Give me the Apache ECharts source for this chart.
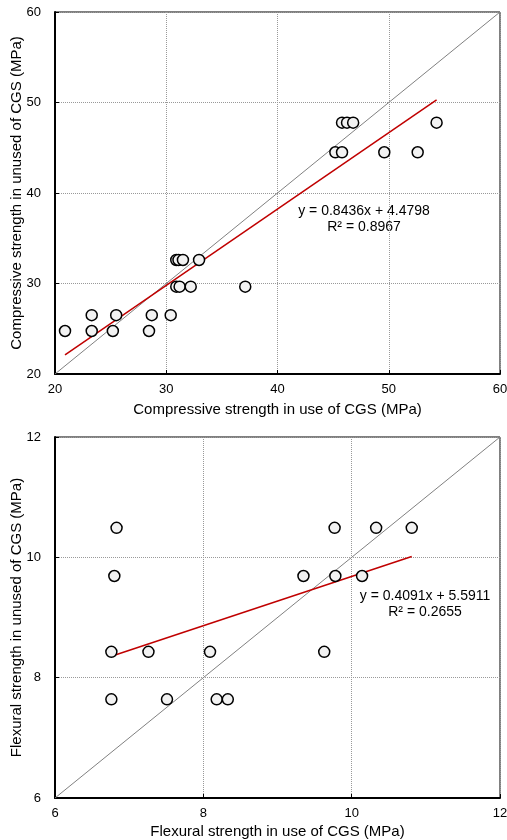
<!DOCTYPE html>
<html>
<head>
<meta charset="utf-8">
<script src="https://cdn.jsdelivr.net/npm/echarts@6/dist/echarts.min.js"></script>
<style>
  html, body { margin: 0; padding: 0; background: #fff; }
  #main { width: 507px; height: 840px; }
</style>
</head>
<body>
<div id="main"></div>
<script>
// compressive strength (MPa): in use of CGS vs unused
var compX = [20.9, 23.3, 25.2, 28.45, 23.3, 25.5, 28.7, 30.4, 30.9, 31.2, 32.2, 37.1, 30.9, 31.1, 31.5, 32.95, 45.2, 45.8, 49.6, 52.6, 45.8, 46.25, 46.8, 54.3];
var compY = [24.75, 24.75, 24.75, 24.75, 26.5, 26.5, 26.5, 26.5, 29.65, 29.65, 29.65, 29.65, 32.6, 32.6, 32.6, 32.6, 44.5, 44.5, 44.5, 44.5, 47.77, 47.77, 47.77, 47.77];
var compFit = [0.8436, 4.4798, 0.8967]; // slope, intercept, R²
var compRange = [20, 60, 10];

// flexural strength (MPa)
var flexX = [6.83, 9.77, 10.33, 10.81, 6.8, 9.35, 9.78, 10.14, 6.76, 7.26, 8.09, 9.63, 6.76, 7.51, 8.18, 8.33];
var flexY = [10.49, 10.49, 10.49, 10.49, 9.69, 9.69, 9.69, 9.69, 8.43, 8.43, 8.43, 8.43, 7.64, 7.64, 7.64, 7.64];
var flexFit = [0.4091, 5.5911, 0.2655];
var flexRange = [6, 12, 2];

var xTitles = ['Compressive strength in use of CGS (MPa)', 'Flexural strength in use of CGS (MPa)'];
var yTitles = ['Compressive strength in unused of CGS (MPa)', 'Flexural strength in unused of CGS (MPa)'];

window.onload = function() {
  var myChart = echarts.init(document.getElementById('main'));
  var font = 'Liberation Sans, Arial, sans-serif';

  function pairs(xs, ys) {
    return xs.map(function(x, i) { return [x, ys[i]]; });
  }
  function fitLine(xs, fit) {
    var lo = Math.min.apply(null, xs), hi = Math.max.apply(null, xs);
    return [[lo, fit[0] * lo + fit[1]], [hi, fit[0] * hi + fit[1]]];
  }

  function xAxis(idx, range, gap) {
    return {
      type: 'value', gridIndex: idx,
      min: range[0], max: range[1], interval: range[2],
      name: xTitles[idx], nameLocation: 'middle', nameGap: gap, nameMoveOverlap: false,
      nameTextStyle: { fontFamily: font, fontSize: 15, color: '#000' },
      axisLine: { onZero: false, lineStyle: { color: '#000', width: 2 } },
      axisTick: { show: true, inside: true, length: 4, lineStyle: { color: '#000' } },
      axisLabel: { margin: 9, fontFamily: font, fontSize: 13, color: '#000' },
      splitLine: { show: true, lineStyle: { color: '#999', type: 'dotted', width: 1 } }
    };
  }
  function yAxis(idx, range) {
    return {
      type: 'value', gridIndex: idx,
      min: range[0], max: range[1], interval: range[2],
      name: yTitles[idx], nameLocation: 'middle', nameGap: 31, nameMoveOverlap: false,
      nameTextStyle: { fontFamily: font, fontSize: 15, color: '#000' },
      axisLine: { onZero: false, lineStyle: { color: '#000', width: 2 } },
      axisTick: { show: true, inside: true, length: 4, lineStyle: { color: '#000' } },
      axisLabel: { margin: 14, fontFamily: font, fontSize: 13, color: '#000' },
      splitLine: { show: true, lineStyle: { color: '#999', type: 'dotted', width: 1 } }
    };
  }
  function scatter(idx, xs, ys) {
    return {
      type: 'scatter', xAxisIndex: idx, yAxisIndex: idx, z: 5,
      data: pairs(xs, ys), symbol: 'circle', symbolSize: 11,
      itemStyle: { color: '#f2f2f2', borderColor: '#000', borderWidth: 1.5, opacity: 1 }
    };
  }
  function line(idx, data, color, width) {
    return {
      type: 'line', xAxisIndex: idx, yAxisIndex: idx, z: 3,
      data: data, symbol: 'none', silent: true,
      lineStyle: { color: color, width: width }
    };
  }
  function eqText(fit, cx, cy) {
    return {
      type: 'text', x: cx, y: cy,
      style: {
        text: 'y = ' + fit[0].toFixed(4) + 'x + ' + fit[1].toFixed(4) + '\nR² = ' + fit[2].toFixed(4),
        fontFamily: font, fontSize: 14, fill: '#000',
        align: 'center', verticalAlign: 'middle', lineHeight: 16
      }
    };
  }

  var option = {
    backgroundColor: '#fff',
    animation: false,
    grid: [
      { left: 55, right: 7, top: 12, height: 362, outerBoundsMode: 'none', show: true, borderColor: '#000', borderWidth: 1 },
      { left: 55, right: 7, top: 437, height: 361, outerBoundsMode: 'none', show: true, borderColor: '#000', borderWidth: 1 }
    ],
    xAxis: [xAxis(0, compRange, 28), xAxis(1, flexRange, 26)],
    yAxis: [yAxis(0, compRange), yAxis(1, flexRange)],
    graphic: [eqText(compFit, 364, 219), eqText(flexFit, 425, 604)],
    series: [
      line(0, [[compRange[0], compRange[0]], [compRange[1], compRange[1]]], '#808080', 1),
      line(0, fitLine(compX, compFit), '#c00000', 1.5),
      scatter(0, compX, compY),
      line(1, [[flexRange[0], flexRange[0]], [flexRange[1], flexRange[1]]], '#808080', 1),
      line(1, fitLine(flexX, flexFit), '#c00000', 1.5),
      scatter(1, flexX, flexY)
    ]
  };
  myChart.setOption(option);
};
</script>
</body>
</html>
